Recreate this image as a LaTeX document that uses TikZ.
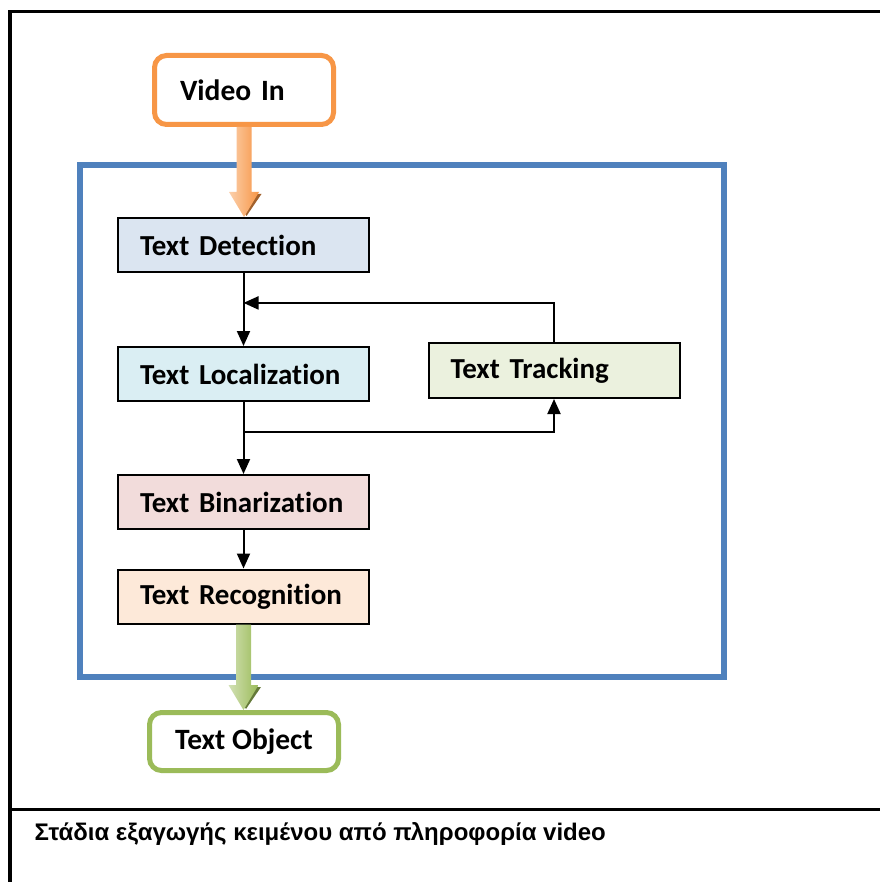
\documentclass[tikz,border=0pt]{standalone}
\usepackage{fontspec}
\usepackage{tikz}
\usetikzlibrary{arrows.meta, positioning, calc}
\newfontfamily\carlito{Carlito}[Ligatures=NoCommon]
\newfontfamily\arialgr{Liberation Sans}
\definecolor{accentblue}{HTML}{4F81BD}
\definecolor{accentorange}{HTML}{F79646}
\definecolor{accentgreen}{HTML}{9BBB59}
\definecolor{detectfill}{HTML}{DBE5F1}
\definecolor{localfill}{HTML}{DAEEF3}
\definecolor{trackfill}{HTML}{EBF1DE}
\definecolor{binfill}{HTML}{F2DCDB}
\definecolor{recogfill}{HTML}{FDE9D9}

% thick shaded block arrow: from, to, colour
\newcommand{\fatarrow}[3]{%
  \fill[#3!65!black] ($(#2)+(-12,-23)$) -- ($(#2)+(17.5,-23)$) -- ($(#2)+(2.5,-1)$) -- cycle;
  \shade[left color=#3!45!white, right color=#3]
    ($(#1)+(-7.5,0)$) -- ($(#2)+(-7.5,-25)$) -- ($(#2)+(-15,-25)$) -- (#2)
    -- ($(#2)+(15,-25)$) -- ($(#2)+(7.5,-25)$) -- ($(#1)+(7.5,0)$) -- cycle;}

\begin{document}
\begin{tikzpicture}[x=1pt, y=-1pt,
  stagebox/.style={draw=black, line width=2pt, rectangle, minimum height=54pt,
    text width=207pt, inner xsep=22pt, inner ysep=0pt, align=left,
    font=\carlito\bfseries\fontsize{29}{30}\selectfont},
  endbox/.style={draw=#1, line width=5pt, rounded corners=12pt, fill=white,
    inner ysep=0pt, font=\carlito\bfseries\fontsize{29.5}{30}\selectfont},
  flow/.style={line width=2pt, -{Triangle[length=15pt,width=13pt]}}]

  \useasboundingbox (0,0) rectangle (880,882);

  % Outer frame and caption rule
  \draw[line width=3.5pt] (10,882) -- (10,11.5) -- (880,11.5);
  \draw[line width=3.5pt] (10,809.5) -- (880,809.5);

  % Blue frame round the stages
  \draw[accentblue, line width=6pt] (80,165) rectangle (724,677);

  % Input and output
  \node[endbox=accentorange, minimum width=179pt, minimum height=69pt,
    text width=128pt, inner xsep=25.5pt, align=left] (vin) at (244,90) {Video In};
  \node[endbox=accentgreen, minimum width=189pt, minimum height=58pt,
    align=center] (tobj) at (244,741.5) {Text Object};

  % Stages
  \node[stagebox, fill=detectfill] (det) at (243.5,245) {Text Detection};
  \node[stagebox, fill=localfill] (loc) at (243.5,374) {Text Localization};
  \node[stagebox, fill=trackfill, minimum height=55pt] (trk) at (554,370.5) {Text Tracking};
  \node[stagebox, fill=binfill] (bin) at (243.5,502) {Text Binarization};
  \node[stagebox, fill=recogfill] (rec) at (243.5,596.5) {Text Recognition};

  % Connectors
  \coordinate (fb) at ($(det.south)!0.41!(loc.north)$);
  \coordinate (br) at ($(loc.south)!0.42!(bin.north)$);
  \draw[flow] (det.south) -- (loc.north);
  \draw[flow] (trk.north) |- (fb);
  \draw[flow] (loc.south) -- (bin.north);
  \draw[flow] (br) -| (trk.south);
  \draw[flow] (bin.south) -- (rec.north);

  % Block arrows in and out
  \fatarrow{vin.south}{vin.south |- det.north}{accentorange}
  \fatarrow{rec.south}{rec.south |- tobj.north}{accentgreen}

  % Caption
  \node[anchor=base west, font=\arialgr\bfseries\fontsize{24}{26}\selectfont]
    (caption) at (31,840) {Στάδια εξαγωγής κειμένου από πληροφορία video};
\end{tikzpicture}
\end{document}
